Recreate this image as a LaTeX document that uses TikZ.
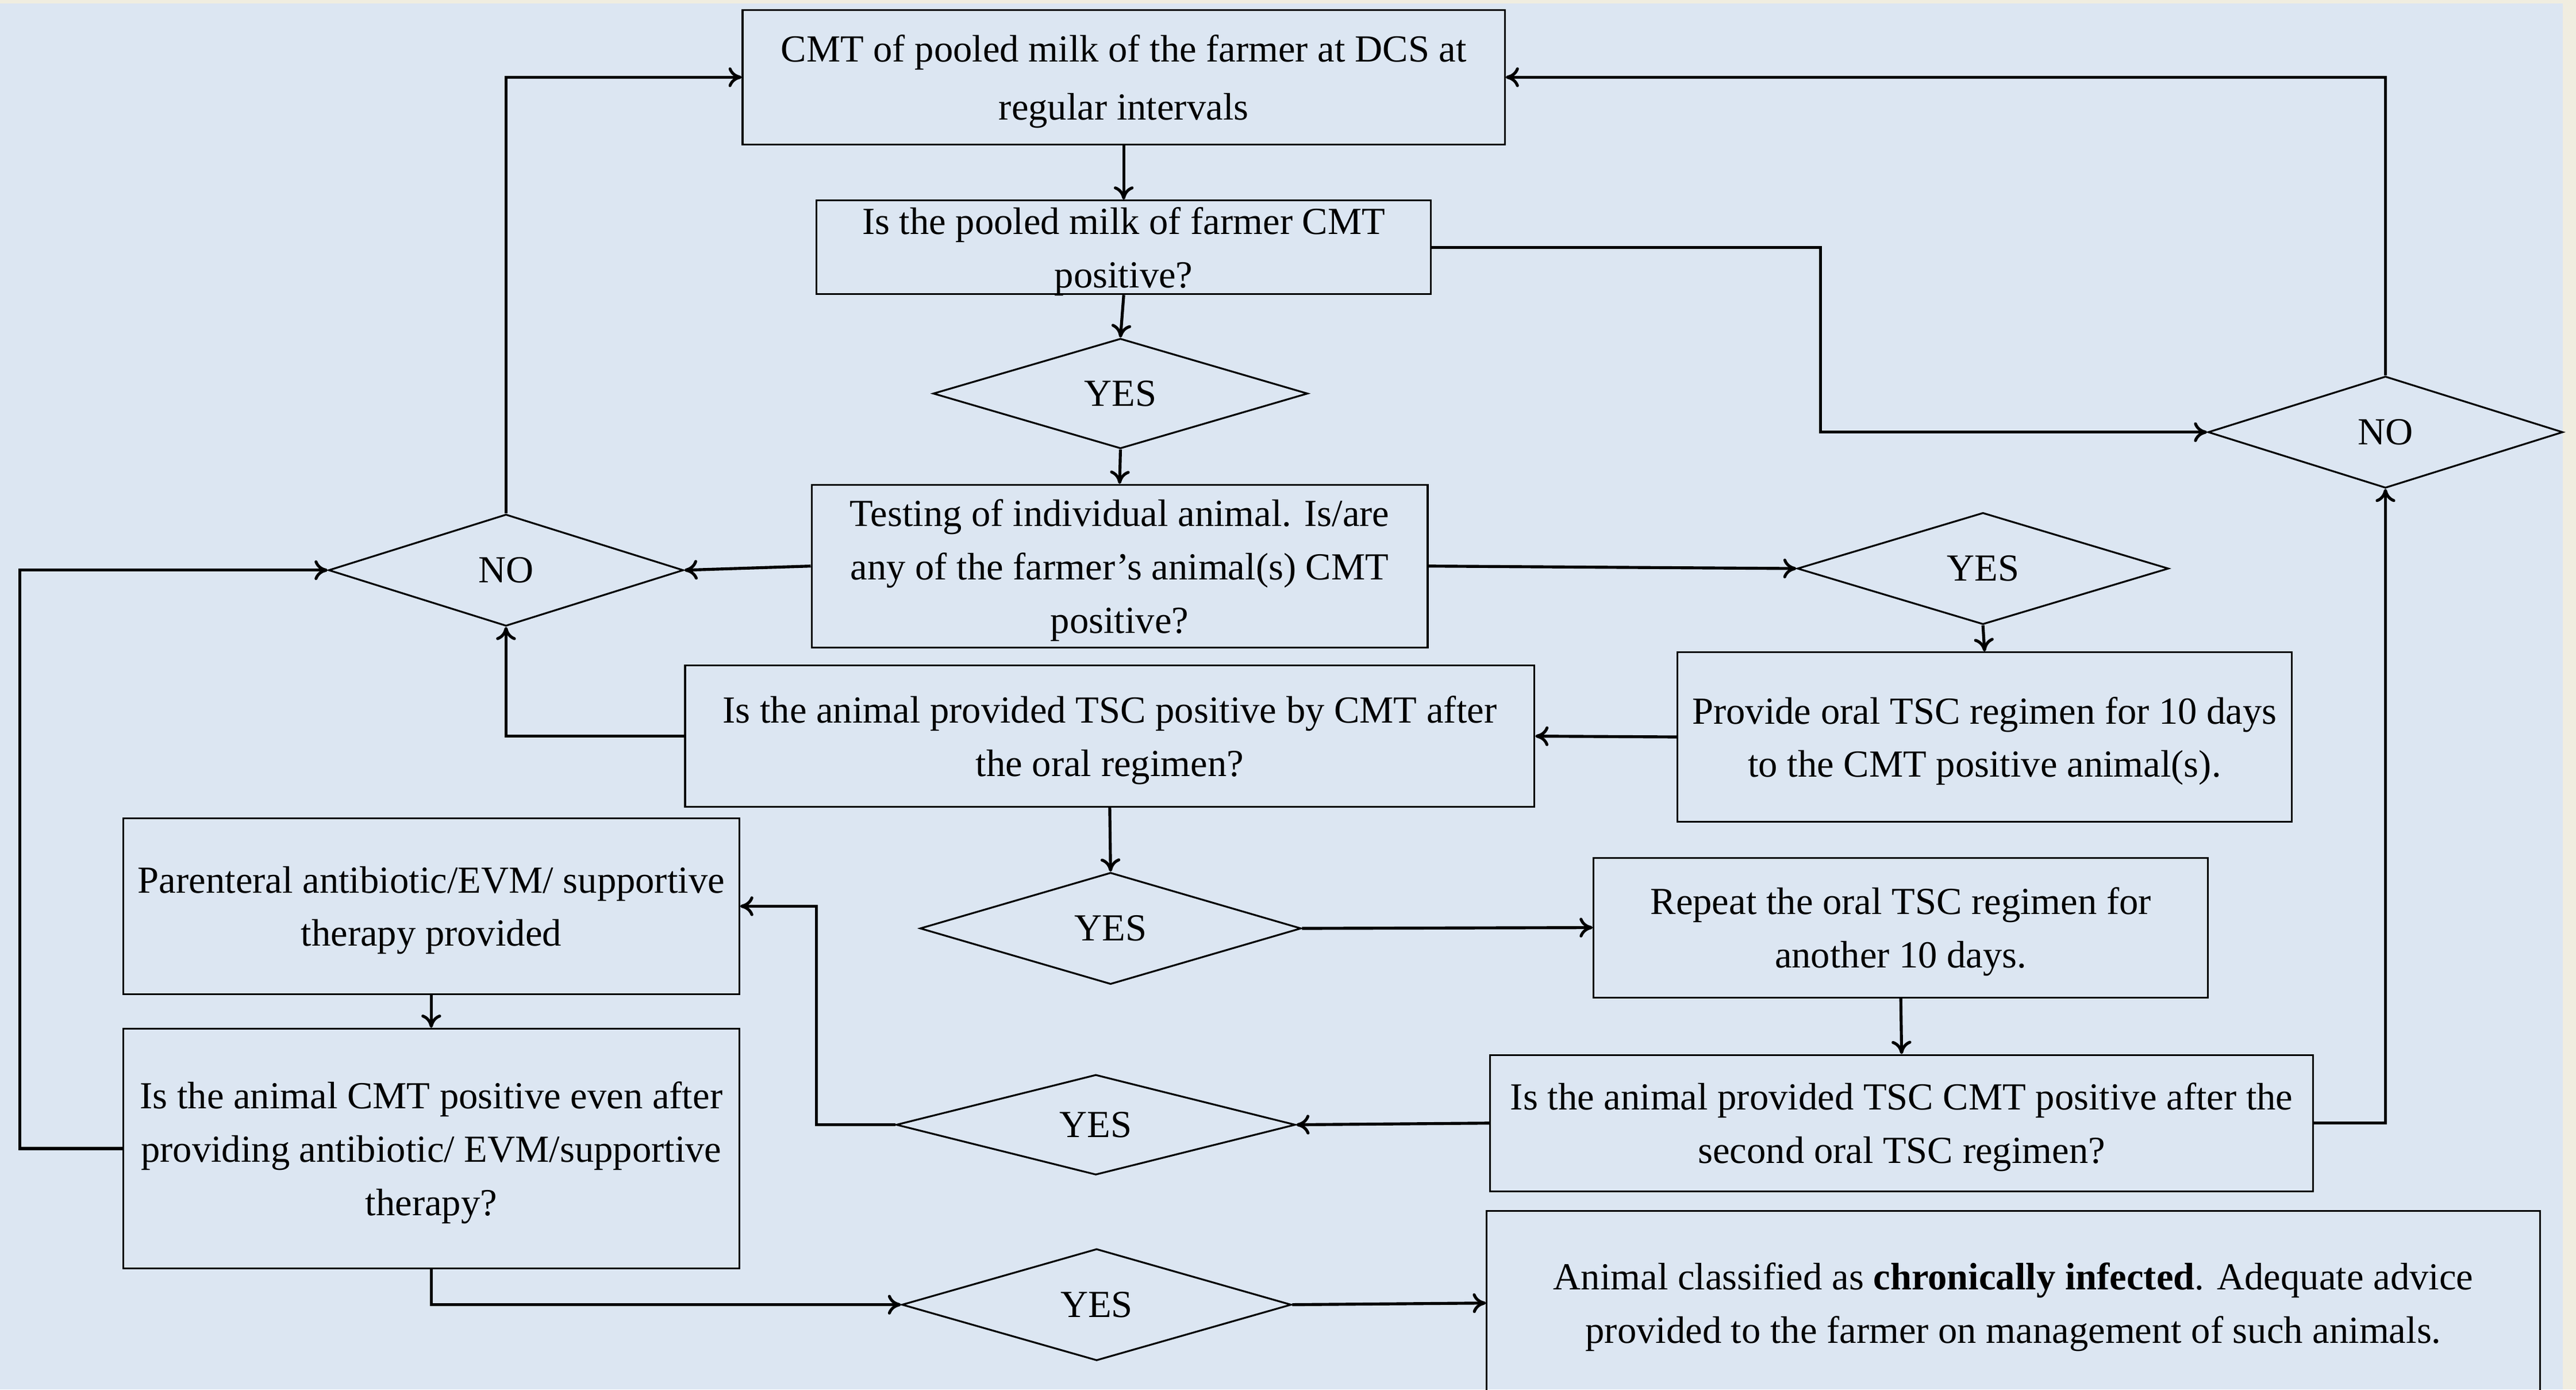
\documentclass[tikz,border=0pt]{standalone}
\usepackage{fontspec}
\setmainfont{Liberation Serif}
\usepackage{xcolor}
\usepackage{tikz}
\usetikzlibrary{shapes.geometric,arrows.meta,positioning,calc}
\definecolor{bgblue}{RGB}{220,230,242}
\definecolor{edgebeige}{RGB}{240,237,224}

\begin{document}
\begin{tikzpicture}[x=1pt,y=-1pt,
  font=\fontsize{23.3}{32.5}\selectfont,
  stepbox/.style={draw,line width=1.1pt,rectangle,align=center,inner sep=0pt,text depth=-1pt},
  choice/.style={draw,line width=1.1pt,diamond,aspect=3.4,inner sep=0pt},
  flow/.style={line width=1.8pt,-{To[length=8pt,width=12pt]}},
  link/.style={line width=1.8pt}]
\useasboundingbox (0,0) rectangle (1568,845.6);
\clip (0,0) rectangle (1568,845.6);
%background
\fill[edgebeige] (0,0) rectangle (1568,845.6);
\fill[bgblue] (0,2) rectangle (1560,845.6);

%Shape: Rectangle
\node[stepbox,minimum width=464,minimum height=82] (pool) at (684,47) {CMT of pooled milk of the farmer at DCS at\\[3pt]regular intervals};
\node[stepbox,minimum width=374,minimum height=57,text depth=-3pt] (poolq) at (684,150.5) {Is the pooled milk of farmer CMT\\positive?};
\node[stepbox,minimum width=375,minimum height=99] (test) at (681.5,344.5) {Testing of individual animal. Is/are\\any of the farmer’s animal(s) CMT\\positive?};
\node[stepbox,minimum width=517,minimum height=86] (afteroral) at (675.5,448) {Is the animal provided TSC positive by CMT after\\the oral regimen?};
\node[stepbox,minimum width=374,minimum height=103] (oral) at (1208,448.5) {Provide oral TSC regimen for 10 days\\to the CMT positive animal(s).};
\node[stepbox,minimum width=375,minimum height=107] (parent) at (262.5,551.5) {Parenteral antibiotic/EVM/ supportive\\therapy provided};
\node[stepbox,minimum width=374,minimum height=85] (repeat) at (1157,564.5) {Repeat the oral TSC regimen for\\another 10 days.};
\node[stepbox,minimum width=375,minimum height=146] (afterab) at (262.5,699) {Is the animal CMT positive even after\\providing antibiotic/ EVM/supportive\\therapy?};
\node[stepbox,minimum width=501,minimum height=83] (second) at (1157.5,683.5) {Is the animal provided TSC CMT positive after the\\second oral TSC regimen?};
\node[stepbox,minimum width=641,minimum height=112,text depth=-4pt] (chronic) at (1225.5,793) {Animal classified as \textbf{chronically infected}. Adequate advice\\provided to the farmer on management of such animals.};

%Shape: Diamond
\node[choice,minimum width=228,minimum height=67] (yespool) at (682,239.5) {YES};
\node[choice,minimum width=216,minimum height=68] (noleft) at (308,347) {NO};
\node[choice,minimum width=226,minimum height=68] (yestest) at (1207,346) {YES};
\node[choice,minimum width=216,minimum height=68] (noright) at (1452,263) {NO};
\node[choice,minimum width=232,minimum height=68] (yesoral) at (676,565) {YES};
\node[choice,minimum width=243,minimum height=61] (yessecond) at (667,684.5) {YES};
\node[choice,minimum width=237,minimum height=68] (yesab) at (667.5,794) {YES};

%bend points
\coordinate (bendpool) at (1108,150.5);
\coordinate (bendsecond) at (497,684.5);
\coordinate (bendab) at (12,699);

%Straight Lines
\draw[flow] (pool.south) -- (poolq.north);
\draw[flow] (poolq.south) -- (yespool.north);
\draw[flow] (yespool.south) -- (test.north);
\draw[flow] (poolq.east) -- (bendpool) |- (noright.west);
\draw[flow] (noright.north) |- (pool.east);
\draw[flow] (test.west) -- (noleft.east);
\draw[flow] (noleft.north) |- (pool.west);
\draw[flow] (test.east) -- (yestest.west);
\draw[flow] (yestest.south) -- (oral.north);
\draw[flow] (oral.west) -- (afteroral.east);
\draw[flow] (afteroral.west) -| (noleft.south);
\draw[flow] (afteroral.south) -- (yesoral.north);
\draw[flow] (yesoral.east) -- (repeat.west);
\draw[flow] (repeat.south) -- (second.north);
\draw[flow] (second.east) -| (noright.south);
\draw[flow] (second.west) -- (yessecond.east);
\draw[flow] (yessecond.west) -- (bendsecond) |- (parent.east);
\draw[flow] (parent.south) -- (afterab.north);
\draw[flow] (afterab.west) -- (bendab) |- (noleft.west);
\draw[flow] (afterab.south) |- (yesab.west);
\draw[flow] (yesab.east) -- (chronic.west);

\end{tikzpicture}
\end{document}
